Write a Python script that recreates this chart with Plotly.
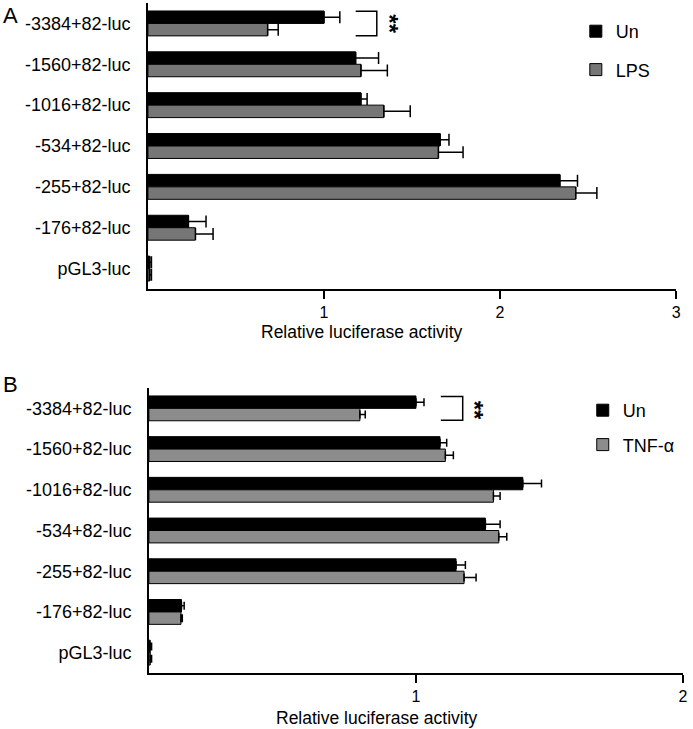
import plotly.graph_objects as go

# ---- data ----
constructs = ["-3384+82-luc", "-1560+82-luc", "-1016+82-luc", "-534+82-luc",
              "-255+82-luc", "-176+82-luc", "pGL3-luc"]

a_un = [1.00, 1.18, 1.21, 1.66, 2.34, 0.23, 0.01]
a_un_err = [0.09, 0.13, 0.035, 0.05, 0.10, 0.10, 0.01]
a_lps = [0.68, 1.21, 1.34, 1.65, 2.43, 0.27, 0.01]
a_lps_err = [0.06, 0.15, 0.15, 0.14, 0.12, 0.10, 0.01]

b_un = [1.00, 1.09, 1.40, 1.26, 1.15, 0.122, 0.005]
b_un_err = [0.03, 0.025, 0.07, 0.055, 0.035, 0.01, 0.005]
b_tnf = [0.79, 1.11, 1.29, 1.31, 1.18, 0.12, 0.005]
b_tnf_err = [0.02, 0.03, 0.025, 0.03, 0.045, 0.005, 0.005]

a_ticks = [1, 2, 3]
b_ticks = [1, 2]
x_title = "Relative luciferase activity"

FONT = "Liberation Sans, Arial, sans-serif"
W, H = 693, 729

fig = go.Figure()

def add_bars(vals, errs, name, color, xa, ya, legend, capw):
    fig.add_trace(go.Bar(
        y=constructs, x=vals, orientation="h", name=name,
        marker=dict(color=color, line=dict(color="black", width=1)),
        error_x=dict(type="data", array=errs, arrayminus=[0] * len(errs),
                     symmetric=False, color="black", thickness=1.5, width=capw),
        xaxis=xa, yaxis=ya, legend=legend, legendgroup=name + legend,
    ))

add_bars(a_un, a_un_err, "Un", "#000000", "x", "y", "legend", 6)
add_bars(a_lps, a_lps_err, "LPS", "#767676", "x", "y", "legend", 6)
add_bars(b_un, b_un_err, "Un", "#000000", "x2", "y2", "legend2", 4)
add_bars(b_tnf, b_tnf_err, "TNF-α", "#8c8c8c", "x2", "y2", "legend2", 4)

def px_x(p):
    return p / W

def px_y(p):
    return 1 - p / H

axis_common = dict(showline=True, linecolor="black", linewidth=1.5,
                   showgrid=False, zeroline=False)

fig.update_layout(
    width=W, height=H, margin=dict(l=0, r=0, t=0, b=0),
    paper_bgcolor="white", plot_bgcolor="white",
    barmode="group", bargap=0.39, bargroupgap=0,
    font=dict(family=FONT, color="black", size=16),
    xaxis=dict(domain=[px_x(149), px_x(681)], range=[0, 3], tickvals=a_ticks,
               ticks="outside", ticklen=8, tickwidth=1.5, tickcolor="black",
               tickfont=dict(size=16, color="black"), anchor="y", **axis_common),
    yaxis=dict(domain=[px_y(289), px_y(3)], range=[6.5, -0.5], anchor="x",
               ticks="", tickfont=dict(size=18, color="black"), ticklabelstandoff=12,
               **axis_common),
    xaxis2=dict(domain=[px_x(150), px_x(688)], range=[0, 2], tickvals=b_ticks,
                ticks="outside", ticklen=8, tickwidth=1.5, tickcolor="black",
                tickfont=dict(size=16, color="black"), anchor="y2", **axis_common),
    yaxis2=dict(domain=[px_y(673), px_y(388)], range=[6.5, -0.5], anchor="x2",
                ticks="", tickfont=dict(size=18, color="black"), ticklabelstandoff=12,
                **axis_common),
    legend=dict(x=px_x(580), y=px_y(13), xanchor="left", yanchor="top",
                font=dict(size=18), tracegroupgap=12, bgcolor="rgba(0,0,0,0)"),
    legend2=dict(x=px_x(587), y=px_y(392), xanchor="left", yanchor="top",
                 font=dict(size=18), tracegroupgap=8, bgcolor="rgba(0,0,0,0)"),
    showlegend=True,
)

# significance brackets
def bracket(xref, yref, x0, x1, row, half):
    fig.add_shape(type="path", xref=xref, yref=yref,
                  path=f"M {x0},{row - half} L {x1},{row - half} L {x1},{row + half} L {x0},{row + half}",
                  line=dict(color="black", width=1.5))

bracket("x", "y", 1.18, 1.30, 0, 0.30)
bracket("x2", "y2", 1.093, 1.175, 0, 0.29)

fig.add_annotation(xref="x", yref="y", x=1.37, y=0, text="<b>**</b>", textangle=90,
                   showarrow=False, font=dict(size=24))
fig.add_annotation(xref="x2", yref="y2", x=1.22, y=0.05, text="<b>**</b>", textangle=90,
                   showarrow=False, font=dict(size=24))

# panel labels and axis titles
fig.add_annotation(xref="paper", yref="paper", x=px_x(1), y=px_y(16), xanchor="left",
                   yanchor="middle", text="A", showarrow=False, font=dict(size=22))
fig.add_annotation(xref="paper", yref="paper", x=px_x(1), y=px_y(384), xanchor="left",
                   yanchor="middle", text="B", showarrow=False, font=dict(size=22))
fig.add_annotation(xref="paper", yref="paper", x=px_x(365), y=px_y(332), xanchor="center",
                   yanchor="middle", text=x_title, showarrow=False, font=dict(size=17.5))
fig.add_annotation(xref="paper", yref="paper", x=px_x(380), y=px_y(718), xanchor="center",
                   yanchor="middle", text=x_title, showarrow=False, font=dict(size=17.5))

fig.write_html("out.html", config={"displayModeBar": False},
               post_script="document.body.style.margin='0';")
